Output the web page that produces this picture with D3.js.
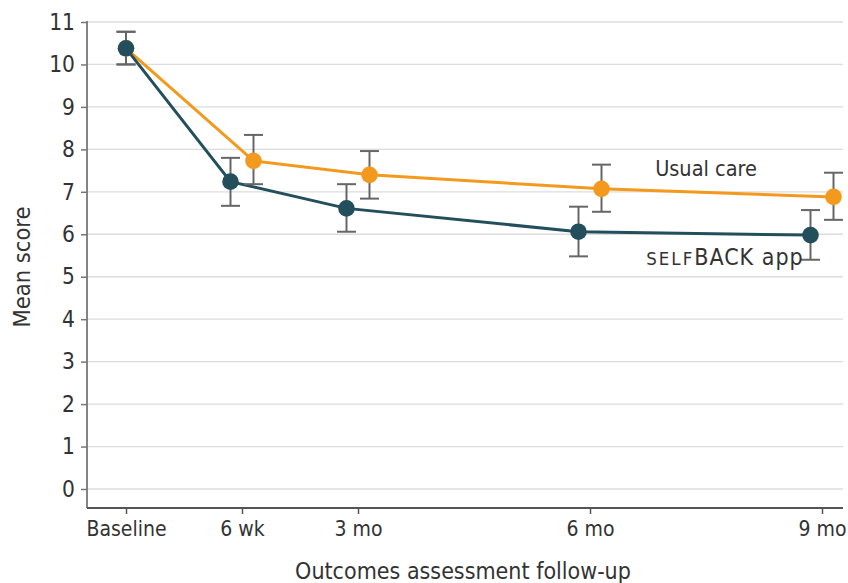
<!DOCTYPE html>
<html>
<head>
<meta charset="utf-8">
<script src="https://cdn.jsdelivr.net/npm/d3@7"></script>
<style>
  html, body { margin: 0; padding: 0; background: #fff; }
  svg { display: block; }
  text { font-family: "Liberation Sans Narrow", "DejaVu Sans Condensed", "Open Sans", sans-serif; fill: #333; }
</style>
</head>
<body>
<svg id="chart" width="848" height="583"></svg>
<script>
const timepoints = ["Baseline", "6 wk", "3 mo", "6 mo", "9 mo"];
const months = [0, 1.5, 3, 6, 9];
const appMean = [10.38, 7.24, 6.61, 6.06, 5.98];
const appLow  = [10.00, 6.67, 6.06, 5.48, 5.40];
const appHigh = [10.77, 7.80, 7.18, 6.65, 6.57];
const careMean = [10.38, 7.73, 7.40, 7.07, 6.88];
const careLow  = [10.00, 7.18, 6.84, 6.53, 6.34];
const careHigh = [10.77, 8.34, 7.96, 7.64, 7.45];
const yTicks = [0, 1, 2, 3, 4, 5, 6, 7, 8, 9, 10, 11];
const seriesNames = ["SELFBACK app", "Usual care"];

const svg = d3.select("#chart");
const plotLeft = 87, plotRight = 843, plotBottom = 508;

const x = d3.scaleLinear().domain([0, 9]).range([126, 822]);
const y = d3.scaleLinear().domain([0, 11]).range([489, 22]);

const teal = "#234f5d", orange = "#f39a1e", barColor = "#666";

// gridlines
svg.append("g").selectAll("line").data(yTicks).join("line")
  .attr("x1", plotLeft).attr("x2", plotRight)
  .attr("y1", d => y(d)).attr("y2", d => y(d))
  .attr("stroke", "#dcdcdc").attr("stroke-width", 1.3);

// y axis
const yAxis = svg.append("g").attr("transform", `translate(${plotLeft},0)`)
  .call(d3.axisLeft(y).tickValues(yTicks).tickSize(6).tickPadding(6).tickFormat(d3.format("d")));
yAxis.select(".domain").remove();
yAxis.selectAll(".tick line").attr("stroke", "#777").attr("stroke-width", 1.5);
yAxis.selectAll(".tick text").style("font-size", "22.5px").attr("fill", "#333");
svg.append("line").attr("x1", plotLeft).attr("x2", plotLeft)
  .attr("y1", y(11) - 1).attr("y2", plotBottom)
  .attr("stroke", "#777").attr("stroke-width", 1.8);

// x axis
const xAxis = svg.append("g").attr("transform", `translate(0,${plotBottom})`)
  .call(d3.axisBottom(x).tickValues(months).tickSize(6).tickPadding(7)
    .tickFormat((d, i) => timepoints[i]));
xAxis.select(".domain").remove();
xAxis.selectAll(".tick line").attr("stroke", "#555").attr("stroke-width", 1.5);
xAxis.selectAll(".tick text").style("font-size", "21px").attr("fill", "#333");
svg.append("line").attr("x1", plotLeft).attr("x2", plotRight)
  .attr("y1", plotBottom).attr("y2", plotBottom)
  .attr("stroke", "#555").attr("stroke-width", 2);

// axis titles
svg.append("text").attr("x", 463).attr("y", 579).attr("text-anchor", "middle")
  .style("font-size", "23px").text("Outcomes assessment follow-up");
svg.append("text").attr("transform", "translate(30,267) rotate(-90)").attr("text-anchor", "middle")
  .style("font-size", "23.5px").text("Mean score");

// series
const dodge = 11.5;
const series = [
  { name: seriesNames[1], mean: careMean, low: careLow, high: careHigh, color: orange, off: dodge },
  { name: seriesNames[0], mean: appMean, low: appLow, high: appHigh, color: teal, off: -dodge }
];
const px = (s, i) => x(months[i]) + (i === 0 ? 0 : s.off);

series.forEach(s => {
  const idx = d3.range(months.length);
  const line = d3.line().x(i => px(s, i)).y(i => y(s.mean[i]));
  svg.append("path").datum(idx).attr("d", line)
    .attr("fill", "none").attr("stroke", s.color).attr("stroke-width", 3);
});

series.forEach(s => {
  const idx = d3.range(months.length);
  const g = svg.append("g");
  g.selectAll("line.stem").data(idx).join("line").attr("class", "stem")
    .attr("x1", i => px(s, i)).attr("x2", i => px(s, i))
    .attr("y1", i => y(s.low[i])).attr("y2", i => y(s.high[i]))
    .attr("stroke", barColor).attr("stroke-width", 2);
  ["low", "high"].forEach(k => {
    g.selectAll("line.cap" + k).data(idx).join("line").attr("class", "cap" + k)
      .attr("x1", i => px(s, i) - 9.5).attr("x2", i => px(s, i) + 9.5)
      .attr("y1", i => y(s[k][i])).attr("y2", i => y(s[k][i]))
      .attr("stroke", barColor).attr("stroke-width", 2);
  });
});

series.forEach(s => {
  const idx = d3.range(months.length);
  svg.append("g").selectAll("circle").data(idx).join("circle")
    .attr("cx", i => px(s, i)).attr("cy", i => y(s.mean[i]))
    .attr("r", 8.3).attr("fill", s.color);
});

// labels
svg.append("text").attr("x", 706).attr("y", 176).attr("text-anchor", "middle")
  .style("font-size", "21.5px").text(seriesNames[1]);
const lab = svg.append("text").attr("x", 725).attr("y", 265).attr("text-anchor", "middle")
  .style("font-size", "23px").style("letter-spacing", "1px");
lab.append("tspan").style("font-size", "18.5px").style("letter-spacing", "2px").text("SELF");
lab.append("tspan").text("BACK app");
</script>
</body>
</html>
